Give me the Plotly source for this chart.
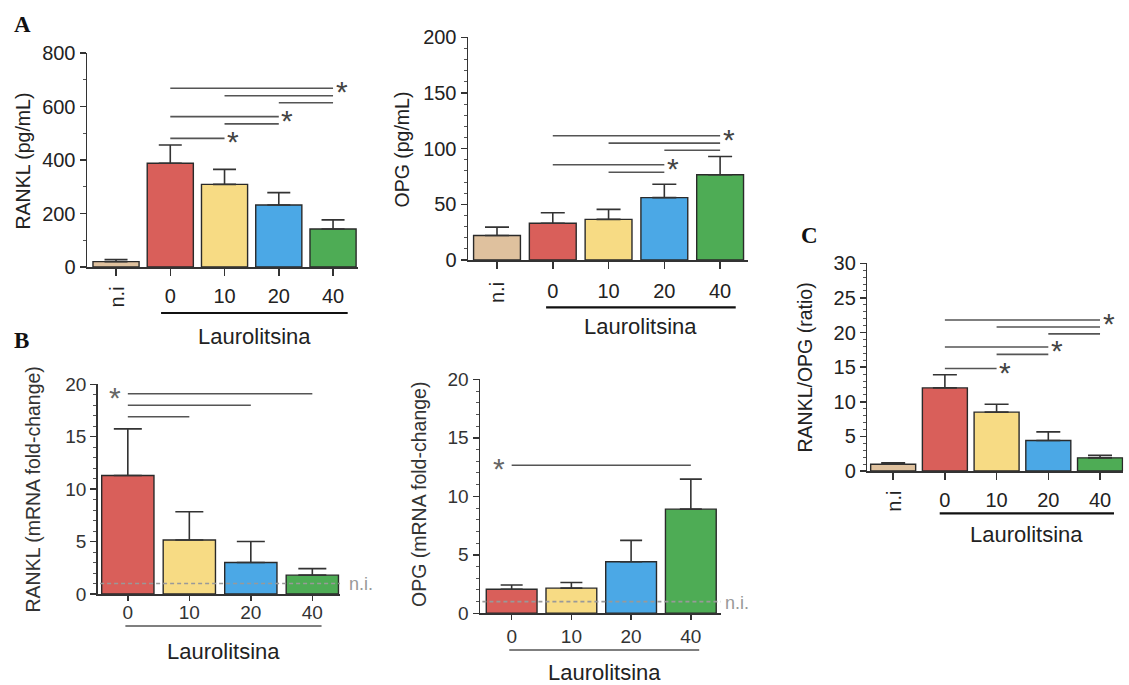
import plotly.graph_objects as go

W, H = 1129, 685

# ---------------- data ----------------
cats5 = ["n.i", "0", "10", "20", "40"]
cats4 = ["0", "10", "20", "40"]
colors5 = ["#DFC19E", "#D95F5A", "#F7DB84", "#4BA8E6", "#4EAC55"]
colors4 = colors5[1:]

rankl_pg = [20, 388, 309, 232, 142]
rankl_pg_err = [8, 68, 56, 46, 34]

opg_pg = [22, 33, 36.5, 56, 76.5]
opg_pg_err = [7.5, 9.5, 9, 12, 16.5]

rankl_mrna = [11.3, 5.15, 3.0, 1.8]
rankl_mrna_err = [4.45, 2.7, 2.0, 0.62]

opg_mrna = [2.05, 2.15, 4.4, 8.9]
opg_mrna_err = [0.37, 0.48, 1.83, 2.57]

ratio = [0.97, 12.0, 8.5, 4.4, 1.9]
ratio_err = [0.23, 1.9, 1.15, 1.25, 0.35]

ni_level = 1.0

# significance brackets: (from index, to index, level)
sig_A1 = [(1, 4, 668), (2, 4, 640), (3, 4, 614), (1, 3, 562), (2, 3, 535), (1, 2, 481)]
star_A1 = [(4, 668), (3, 562), (2, 481)]
sig_A2 = [(1, 4, 111.6), (2, 4, 105), (3, 4, 98.5), (1, 3, 85.6), (2, 3, 78.8)]
star_A2 = [(4, 111.6), (3, 85.6)]
sig_B1 = [(0, 3, 19.1), (0, 2, 18.0), (0, 1, 16.9)]
star_B1 = [(0, 19.1)]
sig_B2 = [(0, 3, 12.65)]
star_B2 = [(0, 12.65)]
sig_C = [(1, 4, 21.8), (2, 4, 20.8), (3, 4, 19.8), (1, 3, 17.9), (2, 3, 16.85), (1, 2, 14.8)]
star_C = [(4, 21.8), (3, 17.9), (2, 14.8)]

# ---------------- layout geometry (pixels) ----------------
panels = [
    dict(cats=cats5, vals=rankl_pg, errs=rankl_pg_err, colors=colors5,
         title="RANKL (pg/mL)", tpos=(22.5, 161),
         x0=87, x1=358, ytop=53, ybot=267, xr=[-0.535, 4.46], ymax=800, dtick=200, minor=100,
         bw=0.85, capw=11.5, sig=sig_A1, stars=star_A1, star_side="right",
         ul=(0.83, 4.27), ul_y=313, ul_col="#111", ul_w=2.2, lt_y=336,
         ni=None, ni_lab_y=297.5, tl=7, tso=3, tfs=20, grey=False),
    dict(cats=cats5, vals=opg_pg, errs=opg_pg_err, colors=colors5,
         title="OPG (pg/mL)", tpos=(401.5, 150),
         x0=468, x1=748, ytop=37.3, ybot=260, xr=[-0.52, 4.5], ymax=200, dtick=50, minor=10,
         bw=0.84, capw=12, sig=sig_A2, stars=star_A2, star_side="right",
         ul=(0.88, 4.28), ul_y=307.3, ul_col="#111", ul_w=2.2, lt_y=326,
         ni=None, ni_lab_y=293, tl=7, tso=5, tfs=20, grey=False),
    dict(cats=cats4, vals=rankl_mrna, errs=rankl_mrna_err, colors=colors4,
         title="RANKL (mRNA fold-change)", tpos=(32.5, 490),
         x0=97.7, x1=340, ytop=384.3, ybot=594, xr=[-0.49, 3.45], ymax=20, dtick=5, minor=1,
         bw=0.85, capw=14, sig=sig_B1, stars=star_B1, star_side="left",
         ul=(-0.04, 3.15), ul_y=626, ul_col="#555", ul_w=1.6, lt_y=651,
         ni=(347, 583.7), ni_lab_y=None, tl=5, tso=-4, tfs=19, grey=True),
    dict(cats=cats4, vals=opg_mrna, errs=opg_mrna_err, colors=colors4,
         title="OPG (mRNA fold-change)", tpos=(419, 495),
         x0=480, x1=720.7, ytop=379.3, ybot=613.3, xr=[-0.53, 3.5], ymax=20, dtick=5, minor=1,
         bw=0.85, capw=11, sig=sig_B2, stars=star_B2, star_side="left",
         ul=(-0.04, 3.14), ul_y=650, ul_col="#555", ul_w=1.6, lt_y=672.5,
         ni=(723.3, 603), ni_lab_y=None, tl=5, tso=0, tfs=19, grey=True),
    dict(cats=cats5, vals=ratio, errs=ratio_err, colors=colors5,
         title="RANKL/OPG (ratio)", tpos=(805, 367.5),
         x0=867.3, x1=1123.3, ytop=263.3, ybot=471, xr=[-0.5, 4.45], ymax=30, dtick=5, minor=1,
         bw=0.87, capw=12, sig=sig_C, stars=star_C, star_side="right",
         ul=(0.9, 4.27), ul_y=513.3, ul_col="#111", ul_w=2.2, lt_y=534,
         ni=None, ni_lab_y=501.5, tl=7, tso=3, tfs=20, grey=False),
]

panel_letters = [("A", 22.5, 25), ("B", 21.5, 340), ("C", 809, 235)]

FONT = "Liberation Sans, Arial, Helvetica, sans-serif"


def px(xp):
    return xp / W


def py(yp):
    return 1 - yp / H


fig = go.Figure()
shapes = []
annotations = []
layout = dict(width=W, height=H, margin=dict(l=0, r=0, t=0, b=0, pad=0, autoexpand=False),
              plot_bgcolor="white", paper_bgcolor="white", showlegend=False,
              font=dict(family=FONT, color="#222"), bargap=0)

for i, p in enumerate(panels, start=1):
    xa = "xaxis" if i == 1 else f"xaxis{i}"
    ya = "yaxis" if i == 1 else f"yaxis{i}"
    xr = "x" if i == 1 else f"x{i}"
    yr = "y" if i == 1 else f"y{i}"
    n = len(p["cats"])
    xs = list(range(n))
    tcol = "#333" if p["grey"] else "#222"

    fig.add_trace(go.Bar(
        x=xs, y=p["vals"], width=p["bw"], xaxis=xr, yaxis=yr,
        marker=dict(color=p["colors"], line=dict(color="#2a2a2a", width=1.4)),
        error_y=dict(type="data", array=p["errs"], arrayminus=[0] * n, symmetric=False,
                     color="#333", thickness=1.6, width=p["capw"]),
        hoverinfo="skip"))

    ticktext = ["" if c == "n.i" else c for c in p["cats"]]
    layout[xa] = dict(domain=[px(p["x0"]), px(p["x1"])], range=p["xr"], anchor=yr,
                      tickmode="array", tickvals=xs, ticktext=ticktext,
                      ticks="outside", ticklen=p["tl"], tickwidth=1.5, ticklabelstandoff=p["tso"],
                      tickcolor="#333", showline=True, linecolor="#333", linewidth=1.5,
                      showgrid=False, zeroline=False, fixedrange=True, automargin=False,
                      tickfont=dict(size=p["tfs"], color=tcol, family=FONT))
    layout[ya] = dict(domain=[py(p["ybot"]), py(p["ytop"])], range=[0, p["ymax"]], anchor=xr,
                      tickmode="linear", tick0=0, dtick=p["dtick"],
                      ticks="outside", ticklen=6, tickwidth=1.5, tickcolor="#333",
                      minor=dict(dtick=p["minor"], tick0=0, ticks="outside", ticklen=3,
                                 tickwidth=1, tickcolor="#555"),
                      showline=True, linecolor="#333", linewidth=1.5, automargin=False,
                      showgrid=False, zeroline=False, fixedrange=True,
                      tickfont=dict(size=p["tfs"], color=tcol, family=FONT))

    # y-axis title
    annotations.append(dict(text=p["title"], x=px(p["tpos"][0]), y=py(p["tpos"][1]),
                            xref="paper", yref="paper", textangle=-90, showarrow=False,
                            xanchor="center", yanchor="middle",
                            font=dict(size=19.5, color=tcol, family=FONT)))

    # n.i rotated tick label
    if "n.i" in p["cats"]:
        k = p["cats"].index("n.i")
        annotations.append(dict(text="n.i", x=k, y=py(p["ni_lab_y"]), xref=xr, yref="paper",
                                textangle=-90, showarrow=False, xanchor="center",
                                yanchor="middle", font=dict(size=20, color=tcol, family=FONT)))

    # significance brackets
    for (a, b, lev) in p["sig"]:
        shapes.append(dict(type="line", xref=xr, yref=yr, x0=a, x1=b, y0=lev, y1=lev,
                           line=dict(color="#555", width=1.6)))
    for (k, lev) in p["stars"]:
        shift = 8.5 if p["star_side"] == "right" else -12.5
        annotations.append(dict(text="*", x=k, y=lev, xref=xr, yref=yr, showarrow=False,
                                xanchor="center", yanchor="middle", xshift=shift, yshift=-3.5,
                                font=dict(size=30, color="#444" if not p["grey"] else "#666",
                                          family=FONT)))

    # Laurolitsina underline + label
    shapes.append(dict(type="line", xref=xr, yref="paper", x0=p["ul"][0], x1=p["ul"][1],
                       y0=py(p["ul_y"]), y1=py(p["ul_y"]),
                       line=dict(color=p["ul_col"], width=p["ul_w"])))
    annotations.append(dict(text="Laurolitsina", x=(p["ul"][0] + p["ul"][1]) / 2,
                            y=py(p["lt_y"]), xref=xr, yref="paper", showarrow=False,
                            xanchor="center", yanchor="middle",
                            font=dict(size=22, color="#222", family=FONT)))

    # non-infected reference line (fold-change panels)
    if p["ni"] is not None:
        shapes.append(dict(type="line", xref=f"{xr} domain", yref=yr, x0=0.01, x1=1.0,
                           y0=ni_level, y1=ni_level,
                           line=dict(color="#999", width=1.6, dash="4px,3px")))
        annotations.append(dict(text="n.i.", x=px(p["ni"][0]), y=py(p["ni"][1]),
                                xref="paper", yref="paper", showarrow=False,
                                xanchor="left", yanchor="middle",
                                font=dict(size=18, color="#999", family=FONT)))

for (lab, xp, yp) in panel_letters:
    annotations.append(dict(text=f"<b>{lab}</b>", x=px(xp), y=py(yp), xref="paper",
                            yref="paper", showarrow=False, xanchor="center", yanchor="middle",
                            font=dict(size=23, color="#111",
                                      family="Liberation Serif, Times New Roman, serif")))

layout["shapes"] = shapes
layout["annotations"] = annotations
fig.update_layout(**layout)

fig.write_html("out.html", config={"displayModeBar": False, "staticPlot": True},
               post_script="document.body.style.margin='0';")
